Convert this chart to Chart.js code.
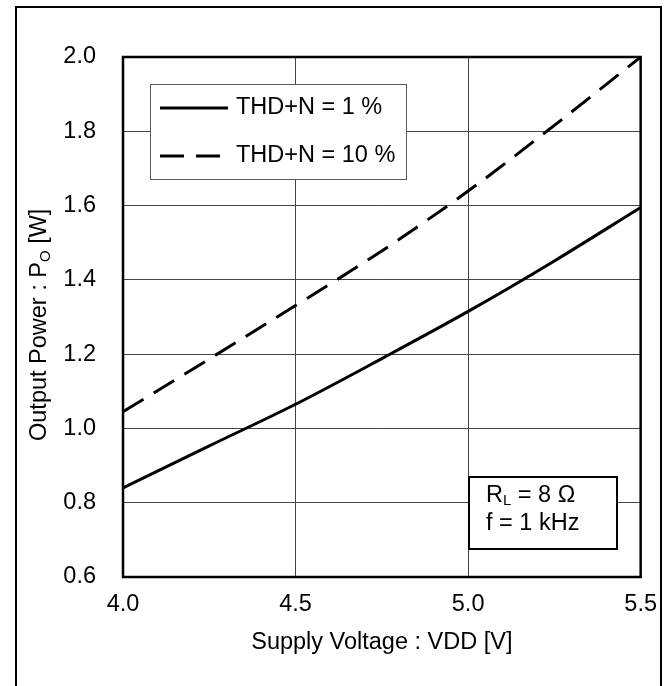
<!DOCTYPE html>
<html>
<head>
<meta charset="utf-8">
<script src="https://cdn.jsdelivr.net/npm/chart.js@4.4.0/dist/chart.umd.min.js"></script>
<style>
  html, body { margin: 0; padding: 0; background: #fff; }
  #wrap { position: absolute; left: 0; top: 0; width: 670px; height: 686px; }
</style>
</head>
<body>
<div id="wrap"><canvas id="poChart" width="670" height="686"></canvas></div>
<script>
// supply voltage VDD [V]
const voltage = [4.0, 4.25, 4.5, 4.75, 5.0, 5.25, 5.5];
// output power PO [W]
const thd1 = [0.84, 0.953, 1.065, 1.188, 1.315, 1.451, 1.595];
const thd10 = [1.045, 1.187, 1.331, 1.478, 1.639, 1.816, 2.0];
const seriesNames = ['THD+N = 1 %', 'THD+N = 10 %'];

const FONT = 'Liberation Sans, Arial, sans-serif';
const SIZE = 23.5;

function pts(ys) {
  return voltage.map((v, i) => ({x: v, y: ys[i]}));
}

const overlay = {
  id: 'overlay',
  afterDraw(chart) {
    const ctx = chart.ctx;
    const a = chart.chartArea;
    ctx.save();

    // plot frame
    ctx.strokeStyle = '#000';
    ctx.lineWidth = 2.5;
    ctx.strokeRect(a.left, a.top, a.right - a.left, a.bottom - a.top);

    // outer frame of the figure
    ctx.lineWidth = 2;
    ctx.strokeRect(16, 7, 645, 720);

    // legend box
    const lx = a.left + 27, ly = a.top + 27, lw = 256, lh = 95;
    ctx.fillStyle = '#fff';
    ctx.fillRect(lx, ly, lw, lh);
    ctx.strokeStyle = '#5a5a5a';
    ctx.lineWidth = 1;
    ctx.strokeRect(lx + 0.5, ly + 0.5, lw, lh);
    ctx.font = SIZE + 'px ' + FONT;
    ctx.textBaseline = 'middle';
    ctx.textAlign = 'left';
    chart.data.datasets.forEach((ds, i) => {
      const yy = ly + 24 + i * 48;
      ctx.strokeStyle = ds.borderColor;
      ctx.lineWidth = ds.borderWidth;
      ctx.setLineDash(ds.borderDash || []);
      ctx.beginPath();
      ctx.moveTo(lx + 10, yy);
      ctx.lineTo(lx + 78, yy);
      ctx.stroke();
      ctx.setLineDash([]);
      ctx.fillStyle = '#000';
      ctx.fillText(ds.label, lx + 86, yy);
    });

    // condition box
    const bx = a.left + 346, by = a.bottom - 100, bw = 148, bh = 72;
    ctx.fillStyle = '#fff';
    ctx.fillRect(bx, by, bw, bh);
    ctx.strokeStyle = '#000';
    ctx.lineWidth = 2;
    ctx.strokeRect(bx, by, bw, bh);
    ctx.fillStyle = '#000';
    ctx.textBaseline = 'alphabetic';
    ctx.font = SIZE + 'px ' + FONT;
    let tx = bx + 17;
    ctx.fillText('R', tx, by + 25);
    tx += ctx.measureText('R').width;
    ctx.font = '15px ' + FONT;
    ctx.fillText('L', tx, by + 28);
    tx += ctx.measureText('L').width;
    ctx.font = SIZE + 'px ' + FONT;
    ctx.fillText(' = 8 \u03A9', tx, by + 25);
    ctx.fillText('f = 1 kHz', bx + 17, by + 53);

    // y axis title with subscript
    ctx.translate(46, 441);
    ctx.rotate(-Math.PI / 2);
    ctx.font = SIZE + 'px ' + FONT;
    let px = 0;
    ctx.fillText('Output Power : P', px, 0);
    px += ctx.measureText('Output Power : P').width;
    ctx.font = '15px ' + FONT;
    ctx.fillText('O', px, 4);
    px += ctx.measureText('O').width;
    ctx.font = SIZE + 'px ' + FONT;
    ctx.fillText(' [W]', px, 0);

    ctx.restore();
  }
};

new Chart(document.getElementById('poChart'), {
  type: 'line',
  data: {
    datasets: [
      {
        label: seriesNames[0],
        data: pts(thd1),
        borderColor: '#000',
        borderWidth: 3,
        pointRadius: 0,
        cubicInterpolationMode: 'monotone',
        fill: false
      },
      {
        label: seriesNames[1],
        data: pts(thd10),
        borderColor: '#000',
        borderWidth: 3,
        borderDash: [24, 12],
        pointRadius: 0,
        cubicInterpolationMode: 'monotone',
        fill: false
      }
    ]
  },
  options: {
    responsive: false,
    animation: false,
    layout: { padding: { left: 0, top: 57, right: 27, bottom: 0 } },
    plugins: {
      legend: { display: false },
      tooltip: { enabled: false }
    },
    scales: {
      x: {
        type: 'linear',
        min: 4.0,
        max: 5.5,
        afterFit: s => { s.height = 109; },
        grid: { color: '#444', lineWidth: 1, drawTicks: false },
        border: { display: false },
        ticks: {
          stepSize: 0.5,
          padding: 13,
          color: '#000',
          font: { family: FONT, size: SIZE },
          callback: v => Number(v).toFixed(1)
        },
        title: {
          display: true,
          text: 'Supply Voltage : VDD [V]',
          color: '#000',
          font: { family: FONT, size: SIZE },
          padding: { top: 0, bottom: 29 }
        }
      },
      y: {
        min: 0.6,
        max: 2.0,
        afterFit: s => { s.width = 123; },
        grid: { color: '#444', lineWidth: 1, drawTicks: false },
        border: { display: false },
        ticks: {
          stepSize: 0.2,
          padding: 27,
          color: '#000',
          font: { family: FONT, size: SIZE },
          callback: v => Number(v).toFixed(1)
        }
      }
    }
  },
  plugins: [overlay]
});
</script>
</body>
</html>
